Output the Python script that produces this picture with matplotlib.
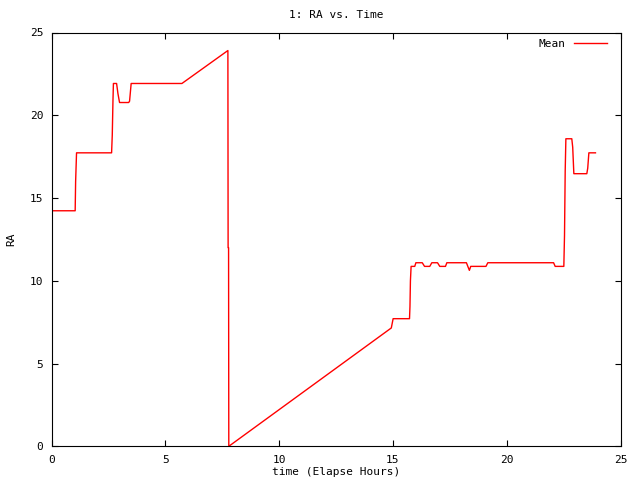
import matplotlib
matplotlib.use("Agg")
import matplotlib.pyplot as plt

# elapsed time (hours) and mean RA
time_hrs = [0.0, 1.04, 1.06, 1.10, 2.64, 2.67, 2.70, 2.72, 2.86, 2.92, 2.99,
            3.39, 3.43, 3.50, 5.73, 7.75, 7.76, 7.78, 7.79, 14.93, 15.01,
            15.73, 15.75, 15.77, 15.80, 15.96, 16.01, 16.29, 16.39, 16.62,
            16.71, 16.96, 17.06, 17.31, 17.37, 18.23, 18.36, 18.42, 19.09,
            19.17, 22.06, 22.13, 22.51, 22.54, 22.57, 22.60, 22.86, 22.90,
            22.95, 23.52, 23.56, 23.61, 23.90]
ra_mean = [14.23, 14.23, 16.0, 17.73, 17.73, 18.8, 20.85, 21.92, 21.92, 21.3,
           20.77, 20.77, 20.85, 21.92, 21.92, 23.91, 12.0, 12.0, 0.0, 7.15,
           7.71, 7.71, 8.45, 10.0, 10.87, 10.87, 11.09, 11.09, 10.87, 10.87,
           11.09, 11.09, 10.87, 10.87, 11.09, 11.09, 10.63, 10.87, 10.87,
           11.09, 11.09, 10.87, 10.87, 12.74, 16.62, 18.58, 18.58, 18.07,
           16.47, 16.47, 16.8, 17.73, 17.73]

x_ticks = [0, 5, 10, 15, 20, 25]
y_ticks = [0, 5, 10, 15, 20, 25]

plt.rcParams['font.family'] = 'DejaVu Sans Mono'
plt.rcParams['font.size'] = 8

fig = plt.figure(figsize=(6.4, 4.8), dpi=100)
ax = fig.add_axes([51.5 / 640, 1 - 446.3 / 480, 569 / 640, 413.8 / 480])

ax.plot(time_hrs, ra_mean, color='red', linewidth=1.0, label='Mean')

ax.set_xlim(0, 25)
ax.set_ylim(0, 25)
ax.set_xticks(x_ticks)
ax.set_yticks(y_ticks)
ax.tick_params(direction='in', length=4.3, width=0.8, top=True, right=True,
               pad=6)
for s in ax.spines.values():
    s.set_linewidth(0.8)

fig.text(336 / 640, 1 - 15 / 480, '1: RA vs. Time', ha='center', va='center')
fig.text(336 / 640, 1 - 472 / 480, 'time (Elapse Hours)', ha='center',
         va='center')
fig.text(11 / 640, 1 - 239 / 480, 'RA', ha='center', va='center',
         rotation=90)

ax.legend(loc='upper right', frameon=False, markerfirst=False,
          handlelength=3.0, handletextpad=0.7, borderpad=0, borderaxespad=0,
          bbox_to_anchor=(607 / 640, 1 - 39 / 480),
          bbox_transform=fig.transFigure)

plt.savefig('out.png', dpi=100)
plt.close()
